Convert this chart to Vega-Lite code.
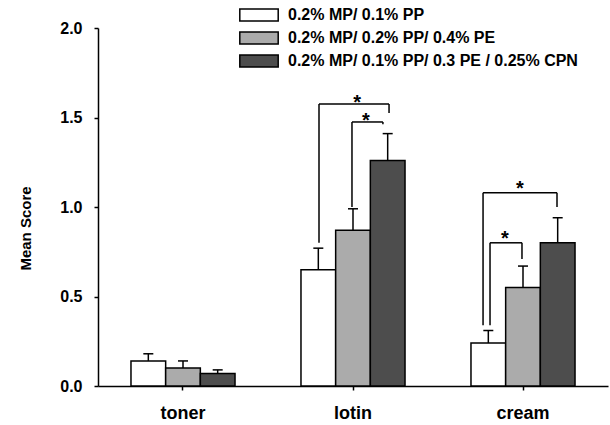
{
  "$schema": "https://vega.github.io/schema/vega-lite/v6.json",
  "width": 510,
  "height": 358,
  "autosize": "none",
  "padding": {"left": 98, "top": 28, "right": 2, "bottom": 39},
  "background": "white",
  "config": {
    "view": {"stroke": null},
    "font": "Liberation Sans",
    "axis": {
      "domainColor": "black",
      "domainWidth": 1.5,
      "tickColor": "black",
      "tickWidth": 1.5,
      "tickSize": 4,
      "grid": false,
      "labelFont": "Liberation Sans",
      "labelFontWeight": "bold",
      "labelColor": "black",
      "titleFont": "Liberation Sans",
      "titleFontWeight": "bold",
      "titleColor": "black"
    }
  },
  "datasets": {
    "bars": [
      {"product": "toner", "group": "0.2%  MP/ 0.1% PP", "mean": 0.14, "upper": 0.18},
      {"product": "toner", "group": "0.2%  MP/ 0.2% PP/ 0.4% PE", "mean": 0.10, "upper": 0.14},
      {"product": "toner", "group": "0.2%  MP/ 0.1% PP/ 0.3 PE / 0.25% CPN", "mean": 0.07, "upper": 0.09},
      {"product": "lotin", "group": "0.2%  MP/ 0.1% PP", "mean": 0.65, "upper": 0.77},
      {"product": "lotin", "group": "0.2%  MP/ 0.2% PP/ 0.4% PE", "mean": 0.87, "upper": 0.99},
      {"product": "lotin", "group": "0.2%  MP/ 0.1% PP/ 0.3 PE / 0.25% CPN", "mean": 1.26, "upper": 1.41},
      {"product": "cream", "group": "0.2%  MP/ 0.1% PP", "mean": 0.24, "upper": 0.31},
      {"product": "cream", "group": "0.2%  MP/ 0.2% PP/ 0.4% PE", "mean": 0.55, "upper": 0.67},
      {"product": "cream", "group": "0.2%  MP/ 0.1% PP/ 0.3 PE / 0.25% CPN", "mean": 0.80, "upper": 0.94}
    ],
    "brackets": [
      {"x": 1.30, "x2": 1.30, "y": 0.80, "y2": 1.575},
      {"x": 1.30, "x2": 1.712, "y": 1.575, "y2": 1.575},
      {"x": 1.712, "x2": 1.712, "y": 1.575, "y2": 1.525},
      {"x": 1.494, "x2": 1.494, "y": 1.0, "y2": 1.475},
      {"x": 1.494, "x2": 1.676, "y": 1.475, "y2": 1.475},
      {"x": 1.676, "x2": 1.676, "y": 1.475, "y2": 1.462},
      {"x": 2.265, "x2": 2.265, "y": 0.34, "y2": 1.08},
      {"x": 2.265, "x2": 2.70, "y": 1.08, "y2": 1.08},
      {"x": 2.70, "x2": 2.70, "y": 1.08, "y2": 1.0},
      {"x": 2.306, "x2": 2.306, "y": 0.34, "y2": 0.80},
      {"x": 2.306, "x2": 2.494, "y": 0.80, "y2": 0.80},
      {"x": 2.494, "x2": 2.494, "y": 0.80, "y2": 0.71}
    ],
    "stars": [
      {"x": 1.524, "y": 1.609, "label": "*"},
      {"x": 1.576, "y": 1.508, "label": "*"},
      {"x": 2.482, "y": 1.128, "label": "*"},
      {"x": 2.394, "y": 0.849, "label": "*"}
    ]
  },
  "layer": [
    {
      "data": {"name": "bars"},
      "encoding": {
        "x": {
          "field": "product", "type": "nominal",
          "sort": ["toner", "lotin", "cream"],
          "scale": {"paddingInner": 0.388, "paddingOuter": 0.194},
          "axis": {"title": null, "labelAngle": 0, "labelPadding": 14, "labelFontSize": 18, "ticks": true}
        },
        "xOffset": {
          "field": "group", "type": "nominal",
          "sort": ["0.2%  MP/ 0.1% PP", "0.2%  MP/ 0.2% PP/ 0.4% PE", "0.2%  MP/ 0.1% PP/ 0.3 PE / 0.25% CPN"],
          "scale": {"paddingInner": 0, "paddingOuter": 0}
        }
      },
      "layer": [
        {
          "mark": {"type": "bar", "stroke": "black", "strokeWidth": 1.5, "opacity": 1},
          "encoding": {
            "y": {
              "field": "mean", "type": "quantitative",
              "scale": {"domain": [0, 2]},
              "axis": {"title": "Mean Score", "values": [0, 0.5, 1, 1.5, 2], "format": ".1f", "labelFontSize": 16, "labelPadding": 12, "titleFontSize": 15, "titlePadding": 26, "titleY": 200}
            },
            "fill": {
              "field": "group", "type": "nominal",
              "scale": {
                "domain": ["0.2%  MP/ 0.1% PP", "0.2%  MP/ 0.2% PP/ 0.4% PE", "0.2%  MP/ 0.1% PP/ 0.3 PE / 0.25% CPN"],
                "range": ["#ffffff", "#ababab", "#4d4d4d"]
              },
              "legend": {
                "orient": "none",
                "legendX": 153,
                "legendY": -21,
                "title": null,
                "padding": 0,
                "symbolType": "M-3.2,-1H3.2V1H-3.2Z",
                "symbolSize": 144,
                "symbolStrokeColor": "black",
                "symbolStrokeWidth": 1.5,
                "symbolOpacity": 1,
                "labelFont": "Liberation Sans",
                "labelFontSize": 16,
                "labelFontWeight": "bold",
                "labelColor": "black",
                "labelOffset": 21,
                "rowPadding": 5,
                "labelLimit": 400
              }
            }
          }
        },
        {
          "mark": {"type": "rule", "color": "black", "strokeWidth": 1.5},
          "encoding": {
            "y": {"field": "mean", "type": "quantitative"},
            "y2": {"field": "upper"}
          }
        },
        {
          "mark": {"type": "tick", "color": "black", "size": 10, "thickness": 1.5, "opacity": 1},
          "encoding": {
            "y": {"field": "upper", "type": "quantitative"}
          }
        }
      ]
    },
    {
      "layer": [
        {
          "data": {"name": "brackets"},
          "mark": {"type": "rule", "color": "black", "strokeWidth": 1.5},
          "encoding": {
            "x": {"field": "x", "type": "quantitative", "scale": {"domain": [0, 3], "nice": false, "zero": false}, "axis": null},
            "x2": {"field": "x2"},
            "y": {"field": "y", "type": "quantitative"},
            "y2": {"field": "y2"}
          }
        },
        {
          "data": {"name": "stars"},
          "mark": {"type": "text", "font": "Liberation Sans", "fontSize": 20, "fontWeight": "bold", "baseline": "middle", "align": "center", "dy": 5, "color": "black"},
          "encoding": {
            "x": {"field": "x", "type": "quantitative"},
            "y": {"field": "y", "type": "quantitative"},
            "text": {"field": "label"}
          }
        }
      ]
    }
  ],
  "resolve": {"scale": {"x": "independent"}}
}
